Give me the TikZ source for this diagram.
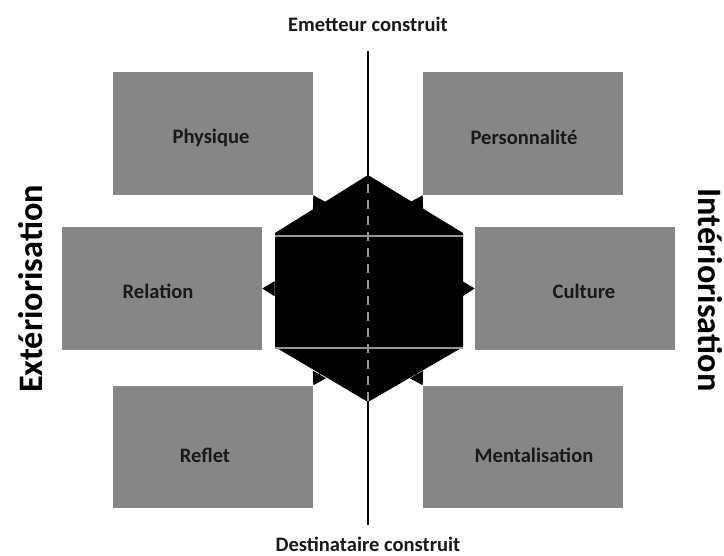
\documentclass[tikz,border=0pt]{standalone}
\usepackage{fontspec}
\setmainfont{Carlito}
\usetikzlibrary{arrows.meta,positioning}

\definecolor{boxgray}{RGB}{134,134,134}
\definecolor{linegray}{RGB}{150,150,150}

\tikzset{
    box/.style={fill=boxgray, minimum width=4cm, minimum height=2.46cm, inner sep=0pt},
    lbl/.style={font=\fontsize{11.7}{14}\selectfont\bfseries, text=black!90},
    side/.style={font=\fontsize{19.5}{23}\selectfont\bfseries, inner sep=0pt},
    spike/.style={-{Triangle[length=7pt,width=8.5pt]}, line width=0.5pt},
}

\begin{document}
\begin{tikzpicture}[x=0.02cm, y=-0.02cm]
    \useasboundingbox (0,0) rectangle (724,555);

    \node[lbl] (emet) at (368,24) {Emetteur construit}; % top title
    \node[lbl] (dest) at (368,544) {Destinataire construit}; % bottom title
    \coordinate (ltop) at (368,51); % top of axis
    \coordinate (lbot) at (368,525); % bottom of axis

    \node[side, rotate=90] (ext) at (31,289) {Extériorisation}; % left side
    \node[side, rotate=-90] (int) at (710,290) {Intériorisation}; % right side

    \node[box] (phys) at (213,133.5) {}; % top left
    \node[box] (pers) at (523,133.5) {}; % top right
    \node[box] (rel) at (162,288.5) {}; % middle left
    \node[box] (cult) at (575,288.5) {}; % middle right
    \node[box] (refl) at (213,447) {}; % bottom left
    \node[box] (ment) at (523,447) {}; % bottom right

    \node[lbl] at (211,138) {Physique};
    \node[lbl] at (524,137) {Personnalité};
    \node[lbl] at (158,291) {Relation};
    \node[lbl] at (584,291) {Culture};
    \node[lbl] at (205,455) {Reflet};
    \node[lbl] at (534,455) {Mentalisation};

    % hexagon in the middle
    \coordinate (ht) at (368,175);
    \coordinate (hne) at (463,233);
    \coordinate (hse) at (463,347);
    \coordinate (hb) at (368,402);
    \coordinate (hsw) at (275,347);
    \coordinate (hnw) at (275,233);
    \coordinate (ctr) at (368,290);

    \draw[line width=1.3pt] (ltop) -- (lbot);
    \fill (ht) -- (hne) -- (hse) -- (hb) -- (hsw) -- (hnw) -- cycle;

    \draw[spike] (ctr) -- (phys.south east);
    \draw[spike] (ctr) -- (pers.south west);
    \draw[spike] (ctr) -- (rel.east);
    \draw[spike] (ctr) -- (cult.west);
    \draw[spike] (ctr) -- (refl.north east);
    \draw[spike] (ctr) -- (ment.north west);

    \draw[linegray, line width=0.9pt] (275,236) -- (463,236);
    \draw[linegray, line width=0.9pt] (275,348) -- (463,348);
    \draw[linegray, line width=1.2pt, dash pattern=on 5.4pt off 3.7pt] ([yshift=-5pt]ht) -- (hb);
\end{tikzpicture}
\end{document}
